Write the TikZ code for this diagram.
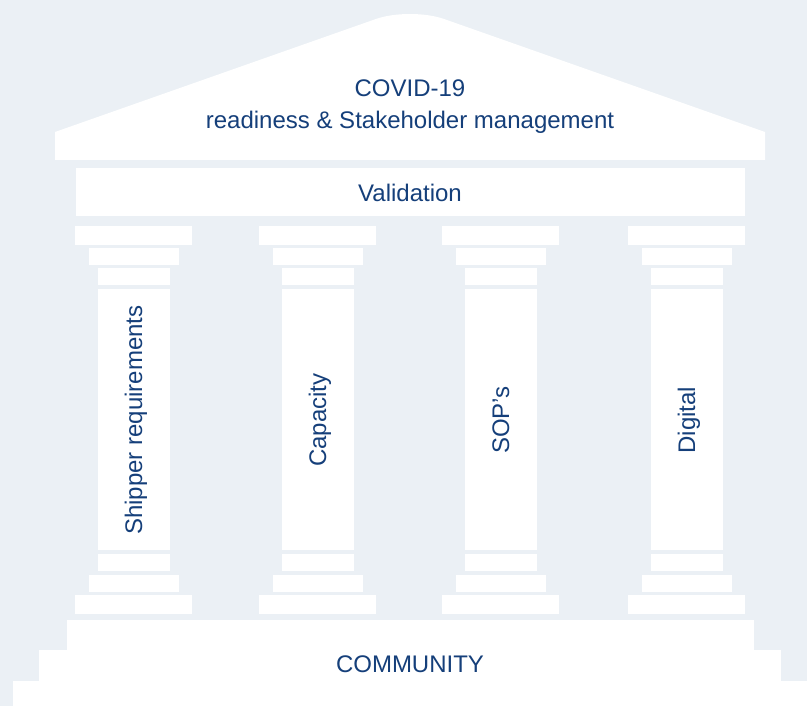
\documentclass[tikz,border=0pt]{standalone}
\usepackage{fontspec}
\setmainfont{Liberation Sans}
\definecolor{templebg}{HTML}{EBF0F5}
\definecolor{templeblue}{HTML}{153F7A}

\begin{document}
\begin{tikzpicture}[x=1pt,y=-1pt,
   stone/.style={fill=white},
   caption/.style={text=templeblue,inner sep=0pt,anchor=base,
                   font=\fontsize{24}{29}\selectfont}]
   \fill[templebg] (0,0) rectangle (807,706);
   % roof
   \fill[stone] (55,160) -- (55,132) [rounded corners=36pt] -- (410,7)
                [sharp corners] -- (765,132) -- (765,160) -- cycle;
   \fill[stone] (76,168) rectangle (745,216);
   % steps
   \fill[stone] (67,620) rectangle (754,650);
   \fill[stone] (39,650) rectangle (781,681);
   \fill[stone] (13,681) rectangle (807,706);
   % pillars
   \foreach \cx/\txt [count=\i] in {133.5/Shipper requirements,317.5/Capacity,
                                    500.5/SOP’s,686.5/Digital}{
      \fill[stone] (\cx-58.5,226) rectangle (\cx+58.5,245);
      \fill[stone] (\cx-45,248) rectangle (\cx+45,265);
      \fill[stone] (\cx-36,268) rectangle (\cx+36,285);
      \fill[stone] (\cx-36,289) rectangle (\cx+36,550);
      \fill[stone] (\cx-36,554) rectangle (\cx+36,571);
      \fill[stone] (\cx-45,575) rectangle (\cx+45,592);
      \fill[stone] (\cx-58.5,595) rectangle (\cx+58.5,614);
      \node[caption,rotate=90] (pillar\i) at (\cx+8.5,420) {\txt};
   }
   \node[caption] (covid) at (410,96.5) {COVID-19};
   \node[caption] (readiness) at (410,128.5) {readiness \& Stakeholder management};
   \node[caption] (validation) at (410,201.5) {Validation};
   \node[caption] (community) at (410,672.5) {COMMUNITY};
\end{tikzpicture}
\end{document}
